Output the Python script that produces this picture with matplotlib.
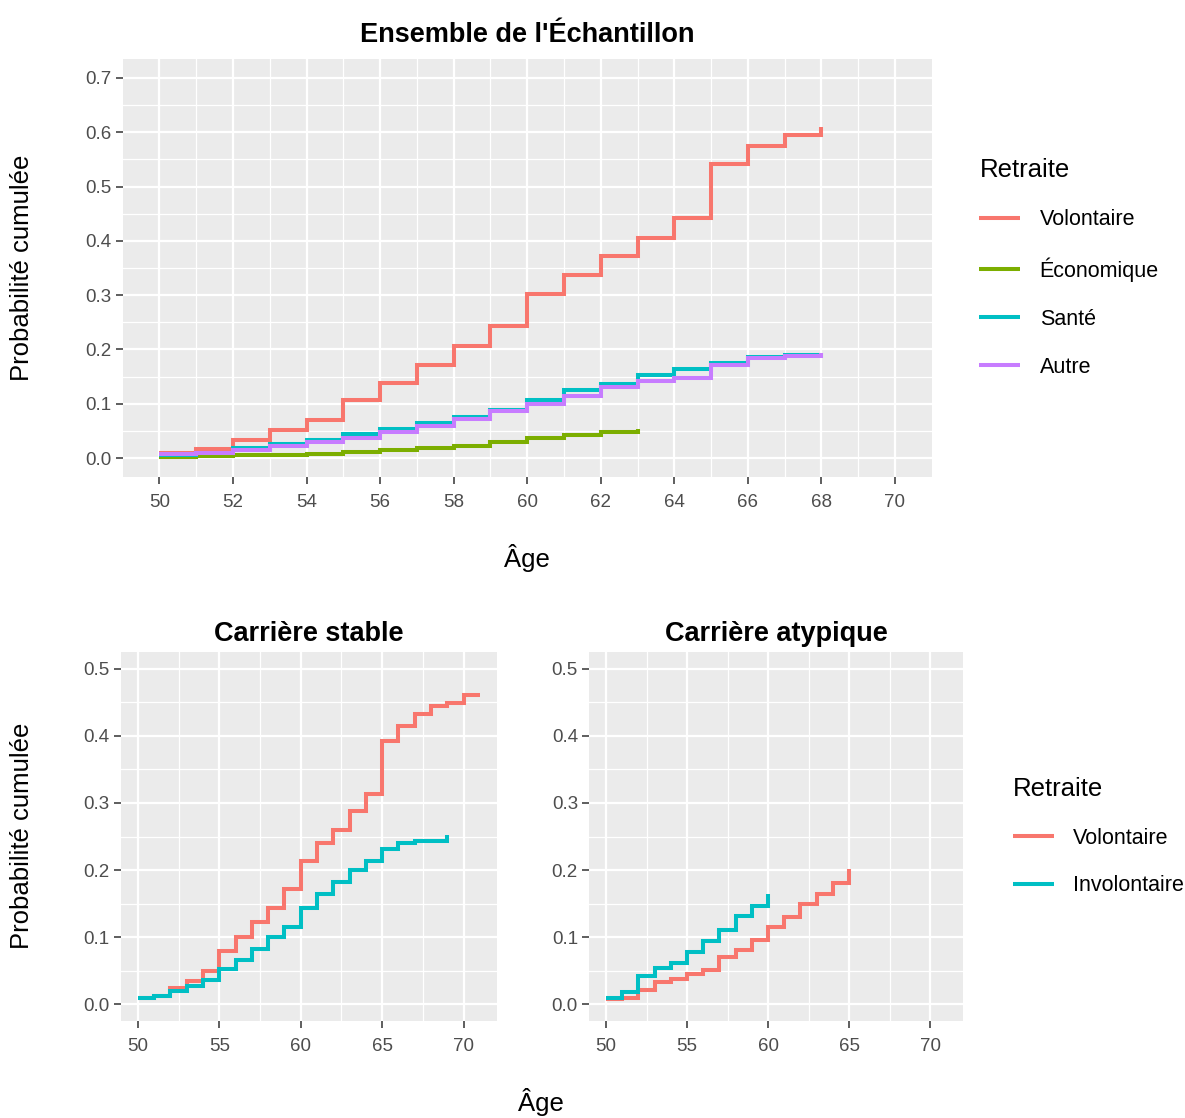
import numpy as np
import matplotlib
matplotlib.use("Agg")
import matplotlib.pyplot as plt
from matplotlib.ticker import MultipleLocator

plt.rcParams['font.family'] = ['Liberation Sans', 'DejaVu Sans']

# --- data: cumulative probability by age (step functions) ---
ages_vol = list(range(50, 69))
ens_volontaire = [0.010, 0.017, 0.033, 0.052, 0.070, 0.107, 0.139, 0.172, 0.206, 0.243,
                  0.303, 0.337, 0.372, 0.406, 0.443, 0.542, 0.575, 0.595, 0.610]
ages_eco = list(range(50, 64))
ens_economique = [0.001, 0.003, 0.005, 0.006, 0.007, 0.011, 0.014, 0.019, 0.023, 0.030,
                  0.037, 0.043, 0.048, 0.053]
ages_sante = list(range(50, 69))
ens_sante = [0.006, 0.010, 0.019, 0.026, 0.034, 0.044, 0.053, 0.065, 0.076, 0.088,
             0.106, 0.125, 0.137, 0.152, 0.164, 0.175, 0.186, 0.190, 0.194]
ages_autre = list(range(50, 69))
ens_autre = [0.007, 0.010, 0.014, 0.023, 0.029, 0.037, 0.048, 0.059, 0.072, 0.086,
             0.100, 0.114, 0.130, 0.142, 0.148, 0.171, 0.185, 0.188, 0.193]

ages_stab_vol = list(range(50, 72))
stab_volontaire = [0.009, 0.013, 0.024, 0.034, 0.049, 0.079, 0.100, 0.122, 0.144, 0.172,
                   0.213, 0.241, 0.259, 0.288, 0.314, 0.393, 0.415, 0.433, 0.444, 0.449,
                   0.461, 0.461]
ages_stab_inv = list(range(50, 70))
stab_involontaire = [0.009, 0.012, 0.020, 0.027, 0.036, 0.052, 0.066, 0.082, 0.100, 0.115,
                     0.143, 0.164, 0.182, 0.200, 0.213, 0.231, 0.240, 0.243, 0.244, 0.252]

ages_aty_vol = list(range(50, 66))
aty_volontaire = [0.008, 0.010, 0.021, 0.033, 0.038, 0.045, 0.051, 0.070, 0.081, 0.096,
                  0.115, 0.130, 0.149, 0.165, 0.180, 0.201]
ages_aty_inv = list(range(50, 61))
aty_involontaire = [0.010, 0.018, 0.042, 0.054, 0.061, 0.078, 0.094, 0.110, 0.132, 0.147,
                    0.165]

RED, GREEN, CYAN, PURPLE = "#F8766D", "#7CAE00", "#00BFC4", "#C77CFF"
W, H = 1185, 1118
fig = plt.figure(figsize=(W / 100, H / 100), dpi=100)


def px_axes(x0, y0, x1, y1):
    return fig.add_axes([x0 / W, 1 - y1 / H, (x1 - x0) / W, (y1 - y0) / H])


def style(ax):
    ax.set_facecolor("#EBEBEB")
    for s in ax.spines.values():
        s.set_visible(False)
    ax.grid(which="major", color="white", lw=1.6)
    ax.grid(which="minor", color="white", lw=0.9)
    ax.set_axisbelow(True)
    ax.tick_params(which="major", length=5, width=1.1, color="#333333",
                   labelcolor="#4D4D4D", labelsize=13.5, pad=3)
    ax.tick_params(axis="x", which="major", pad=7)
    ax.tick_params(which="minor", length=0)
    ax.yaxis.set_major_locator(MultipleLocator(0.1))
    ax.yaxis.set_minor_locator(MultipleLocator(0.05))
    ax.yaxis.set_major_formatter(plt.FuncFormatter(lambda v, p: f"{v:.1f}"))


def steps(ax, x, y, color, label):
    ax.step(x, y, where="post", color=color, lw=2.9, label=label,
            solid_capstyle="butt", solid_joinstyle="miter")


def legend(ax, x):
    ax.legend(loc="center left", bbox_to_anchor=(x, 0.5), frameon=False,
              title="Retraite", fontsize=15.5, title_fontsize=18.5,
              handlelength=1.9, handletextpad=0.9, labelspacing=1.25,
              alignment="left")


# top panel
ax1 = px_axes(122.7, 59, 931.7, 477)
style(ax1)
steps(ax1, ages_vol, ens_volontaire, RED, "Volontaire")
steps(ax1, ages_eco, ens_economique, GREEN, "Économique")
steps(ax1, ages_sante, ens_sante, CYAN, "Santé")
steps(ax1, ages_autre, ens_autre, PURPLE, "Autre")
ax1.set_xlim(49, 71)
ax1.set_ylim(-0.035, 0.735)
ax1.xaxis.set_major_locator(plt.FixedLocator(range(50, 71, 2)))
ax1.xaxis.set_minor_locator(plt.FixedLocator(range(51, 70, 2)))
ax1.set_title("Ensemble de l'Échantillon", fontsize=19.5, fontweight="bold", pad=12)
ax1.set_xlabel("Âge", fontsize=18.5, labelpad=24)
legend(ax1, 1.035)
fig.text(22 / W, 1 - 268 / H, "Probabilité cumulée", rotation=90,
         ha="center", va="center", fontsize=18.5)

# bottom panels
ax2 = px_axes(120.7, 652, 497, 1021)
ax3 = px_axes(589, 652, 963.3, 1021)
for ax in (ax2, ax3):
    style(ax)
    ax.set_xlim(48.95, 72.05)
    ax.set_ylim(-0.025, 0.525)
    ax.xaxis.set_major_locator(plt.FixedLocator(range(50, 71, 5)))
    ax.xaxis.set_minor_locator(plt.FixedLocator([52.5, 57.5, 62.5, 67.5]))

steps(ax2, ages_stab_vol, stab_volontaire, RED, "Volontaire")
steps(ax2, ages_stab_inv, stab_involontaire, CYAN, "Involontaire")
steps(ax3, ages_aty_vol, aty_volontaire, RED, "Volontaire")
steps(ax3, ages_aty_inv, aty_involontaire, CYAN, "Involontaire")
ax2.set_title("Carrière stable", fontsize=19.5, fontweight="bold", pad=8)
ax3.set_title("Carrière atypique", fontsize=19.5, fontweight="bold", pad=8)
legend(ax3, 1.08)
fig.text(22 / W, 1 - 836 / H, "Probabilité cumulée", rotation=90,
         ha="center", va="center", fontsize=18.5)
fig.text(541 / W, 1 - 1102 / H, "Âge", ha="center", va="center", fontsize=18.5)

fig.savefig("out.png", dpi=100, facecolor="white")
